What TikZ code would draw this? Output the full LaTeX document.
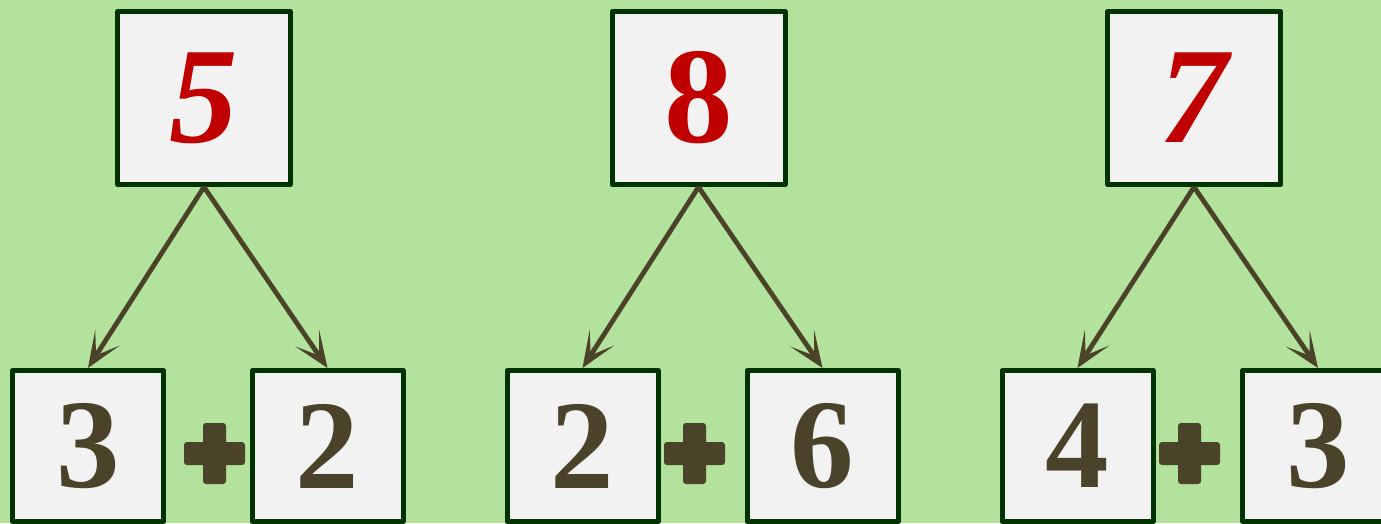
\documentclass[tikz,border=0pt]{standalone}
\usepackage{fontspec}
\setmainfont{Liberation Serif}
\usetikzlibrary{arrows.meta}
\definecolor{bg}{HTML}{B2E29B}
\definecolor{boxfill}{HTML}{F2F2F2}
\definecolor{boxline}{HTML}{003300}
\definecolor{numred}{HTML}{C00000}
\definecolor{brownc}{HTML}{4A4229}
\begin{document}
\begin{tikzpicture}[x=1pt,y=-1pt,
  topbox/.style={draw=boxline, line width=5pt, line join=round, fill=boxfill, minimum size=173pt, inner sep=0pt,
    font=\fontsize{137}{137}\selectfont\bfseries, text=numred},
  botbox/.style={draw=boxline, line width=5pt, line join=round, fill=boxfill, minimum size=151pt, inner sep=0pt,
    font=\fontsize{127}{127}\selectfont\bfseries, text=brownc},
  link/.style={draw=brownc, line width=4.8pt, -{Stealth[length=36pt,width=29pt,inset=21pt]}},
  plusarm/.style={fill=brownc, rounded corners=3pt}]
\useasboundingbox (0,0) rectangle (1381,523);
\fill[bg] (0,0) rectangle (1381,523);
\clip (0,0) rectangle (1381,523);
% tree 1
\node[topbox] (t1) at (204,98) {\raisebox{-5pt}{\itshape 5}};
\node[botbox] (l1) at (88,446) {\raisebox{-4.5pt}{3}};
\node[botbox] (r1) at (327.5,446) {\raisebox{-4.5pt}{2}};
% tree 2
\node[topbox] (t2) at (698.5,98) {\raisebox{-5pt}{8}};
\node[botbox] (l2) at (582.5,446) {\raisebox{-4.5pt}{2}};
\node[botbox] (r2) at (822.5,446) {\raisebox{-4.5pt}{6}};
% tree 3
\node[topbox] (t3) at (1194,98) {\raisebox{-5pt}{\itshape 7}};
\node[botbox] (l3) at (1077.5,446) {\raisebox{-4.5pt}{4}};
\node[botbox] (r3) at (1318,446) {\raisebox{-4.5pt}{3}};
% arrows
\foreach \i in {1,2,3}{
  \draw[link] (t\i.south) -- (l\i.north);
  \draw[link] (t\i.south) -- (r\i.north);
}
% plus signs
\coordinate (p1) at (214.5,453.5);
\coordinate (p2) at (694.5,453.5);
\coordinate (p3) at (1189.5,453.5);
\foreach \i in {1,2,3}{
  \fill[plusarm] ([shift={(-30.5,-11.5)}]p\i) rectangle ([shift={(30.5,11.5)}]p\i);
  \fill[plusarm] ([shift={(-11.5,-30.5)}]p\i) rectangle ([shift={(11.5,30.5)}]p\i);
}
\end{tikzpicture}
\end{document}
